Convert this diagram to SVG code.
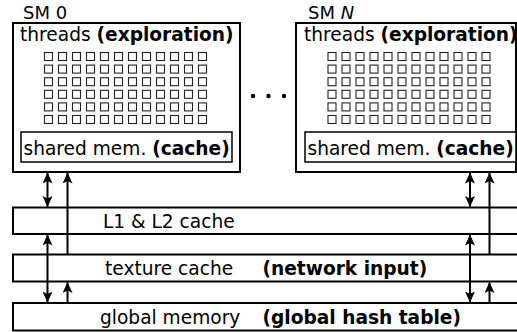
<svg xmlns="http://www.w3.org/2000/svg" xmlns:xlink="http://www.w3.org/1999/xlink" width="517" height="332" viewBox="0 0 517 332">
<style>
text{font-family:"DejaVu Sans",sans-serif;font-size:18.6px;fill:#000}
.b{font-weight:bold}
.box{fill:#fff;stroke:#000;stroke-width:2}
.inner{fill:#fff;stroke:#000;stroke-width:1.5}
.sq{fill:none;stroke:#222;stroke-width:1.1}
.arr{stroke:#000;stroke-width:2;fill:none}
</style>
<defs>
<marker id="ah" markerUnits="userSpaceOnUse" markerWidth="13" markerHeight="12" refX="10.5" refY="5" orient="auto-start-reverse">
<path d="M0,0 L11,5 L0,10 L2.5,5 z" fill="#000"/>
</marker>
<g id="row">
<rect class="sq" x="0" y="0" width="8" height="8"/>
<rect class="sq" x="14" y="0" width="8" height="8"/>
<rect class="sq" x="28" y="0" width="8" height="8"/>
<rect class="sq" x="42" y="0" width="8" height="8"/>
<rect class="sq" x="56" y="0" width="8" height="8"/>
<rect class="sq" x="70" y="0" width="8" height="8"/>
<rect class="sq" x="84" y="0" width="8" height="8"/>
<rect class="sq" x="98" y="0" width="8" height="8"/>
<rect class="sq" x="112" y="0" width="8" height="8"/>
<rect class="sq" x="126" y="0" width="8" height="8"/>
<rect class="sq" x="140" y="0" width="8" height="8"/>
<rect class="sq" x="154" y="0" width="8" height="8"/>
</g>
<g id="grid">
<use xlink:href="#row" y="0"/>
<use xlink:href="#row" y="12.6"/>
<use xlink:href="#row" y="25.2"/>
<use xlink:href="#row" y="37.8"/>
<use xlink:href="#row" y="50.4"/>
<use xlink:href="#row" y="63"/>
</g>
</defs>
<rect width="517" height="332" fill="#fff"/>

<g id="sm0">
<text x="23" y="19" style="font-size:18px">SM 0</text>
<rect class="box" x="13" y="23" width="227" height="149"/>
<text x="20" y="41">threads <tspan class="b">(exploration)</tspan></text>
<use xlink:href="#grid" x="44.5" y="52.5"/>
<rect class="inner" x="21" y="132" width="211" height="30"/>
<text x="23.5" y="155">shared mem. <tspan class="b">(cache)</tspan></text>
</g>

<g id="dots">
<circle cx="253" cy="96" r="2.2"/>
<circle cx="268.5" cy="96" r="2.2"/>
<circle cx="284" cy="96" r="2.2"/>
</g>

<g id="smN">
<text x="308" y="19" style="font-size:18px">SM <tspan font-style="italic">N</tspan></text>
<rect class="box" x="296" y="23" width="220" height="149"/>
<text x="304" y="41">threads <tspan class="b">(exploration)</tspan></text>
<use xlink:href="#grid" x="328" y="52.5"/>
<rect class="inner" x="305" y="132" width="211" height="30"/>
<text x="307.5" y="155">shared mem. <tspan class="b">(cache)</tspan></text>
</g>

<g id="l1l2">
<rect class="box" x="13" y="207.5" width="520" height="26.5"/>
<text x="103" y="228">L1 &amp; L2 cache</text>
</g>

<g id="texture">
<rect class="box" x="13" y="254.5" width="520" height="27"/>
<text x="105" y="275">texture cache</text>
<text class="b" x="262.5" y="275">(network input)</text>
</g>

<g id="global">
<rect class="box" x="13" y="303" width="520" height="27.5"/>
<text x="100" y="324">global memory</text>
<text class="b" x="262.5" y="324">(global hash table)</text>
</g>

<g id="connectors">
<line class="arr" x1="47.5" y1="173" x2="47.5" y2="206.5" marker-start="url(#ah)" marker-end="url(#ah)"/>
<line class="arr" x1="67.5" y1="254.5" x2="67.5" y2="173" marker-end="url(#ah)"/>
<line class="arr" x1="47.5" y1="235" x2="47.5" y2="302" marker-start="url(#ah)" marker-end="url(#ah)"/>
<line class="arr" x1="67.5" y1="303" x2="67.5" y2="282.5" marker-end="url(#ah)"/>
<line class="arr" x1="470" y1="173" x2="470" y2="206.5" marker-start="url(#ah)" marker-end="url(#ah)"/>
<line class="arr" x1="489.5" y1="254.5" x2="489.5" y2="173" marker-end="url(#ah)"/>
<line class="arr" x1="470" y1="235" x2="470" y2="302" marker-start="url(#ah)" marker-end="url(#ah)"/>
<line class="arr" x1="489.5" y1="303" x2="489.5" y2="282.5" marker-end="url(#ah)"/>
</g>
</svg>
